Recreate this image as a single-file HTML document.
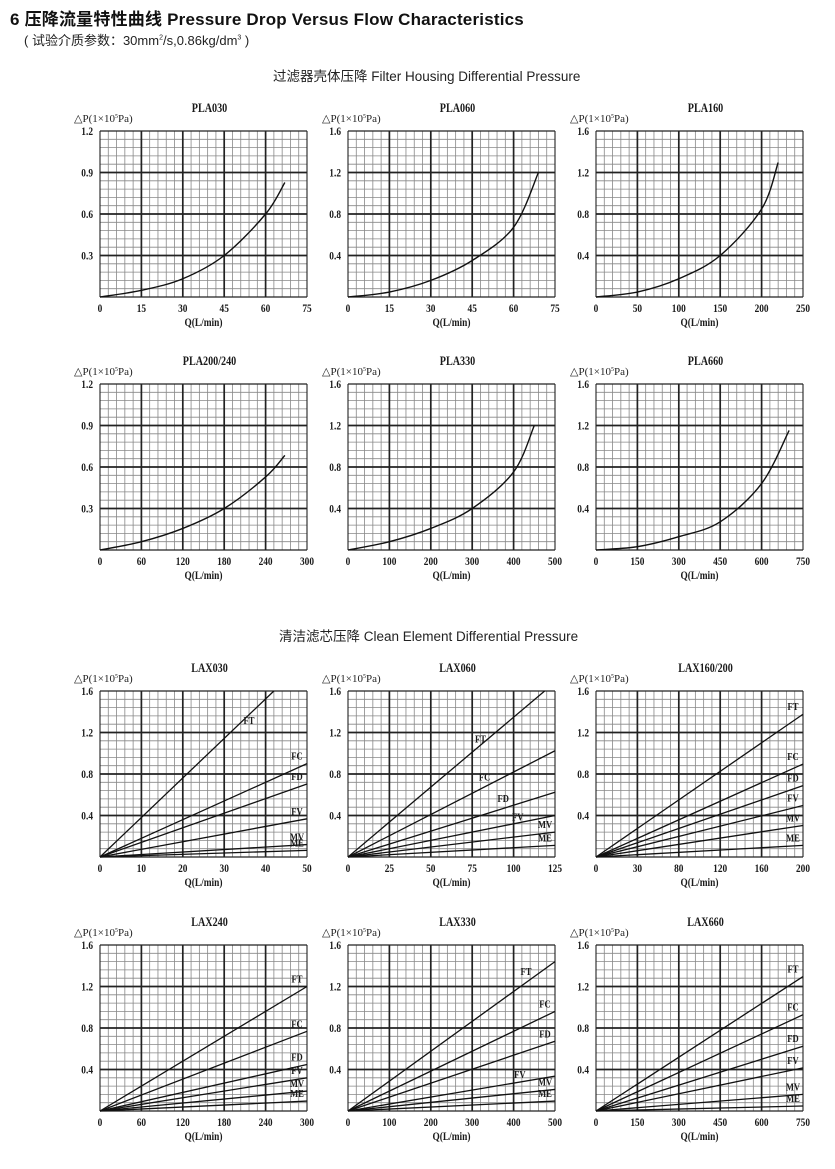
<!DOCTYPE html>
<html><head><meta charset="utf-8"><style>
body{margin:0;background:#fff;width:835px;height:1169px;overflow:hidden;position:relative;font-family:"Liberation Sans","Noto Sans CJK SC",sans-serif;}
.t1{position:absolute;left:10px;top:5px;font-size:17px;font-weight:bold;color:#111;letter-spacing:0.2px}
.t2{position:absolute;left:24px;top:30px;font-size:13px;color:#222}
.h{position:absolute;font-size:13.5px;color:#222}
svg{position:absolute;left:0;top:0}
</style></head><body>
<div class="t1">6 压降流量特性曲线 Pressure Drop Versus Flow Characteristics</div>
<div class="t2">( 试验介质参数：30mm<sup style="font-size:7px">2</sup>/s,0.86kg/dm<sup style="font-size:7px">3</sup> )</div>
<div class="h" style="left:273px;top:65px">过滤器壳体压降 Filter Housing Differential Pressure</div>
<div class="h" style="left:279px;top:625px">清洁滤芯压降 Clean Element Differential Pressure</div>
<svg id="s" width="835" height="1169" xmlns="http://www.w3.org/2000/svg"></svg>
<script>
var W=207,H=166,xs=[100,348,596];
var charts=[
{t:"PLA030",x:0,y:131,yl:["0.3","0.6","0.9","1.2"],xl:[0,15,30,45,60,75],c:[[0,0],[0.2,0.04],[0.4,0.11],[0.6,0.25],[0.8,0.5],[0.893,0.69]]},
{t:"PLA060",x:1,y:131,yl:["0.4","0.8","1.2","1.6"],xl:[0,15,30,45,60,75],c:[[0,0],[0.2,0.03],[0.4,0.1],[0.6,0.22],[0.8,0.42],[0.92,0.75]]},
{t:"PLA160",x:2,y:131,yl:["0.4","0.8","1.2","1.6"],xl:[0,50,100,150,200,250],c:[[0,0],[0.2,0.03],[0.4,0.11],[0.6,0.25],[0.8,0.53],[0.88,0.81]]},
{t:"PLA200/240",x:0,y:384,yl:["0.3","0.6","0.9","1.2"],xl:[0,60,120,180,240,300],c:[[0,0],[0.2,0.05],[0.4,0.13],[0.6,0.25],[0.8,0.44],[0.893,0.57]]},
{t:"PLA330",x:1,y:384,yl:["0.4","0.8","1.2","1.6"],xl:[0,100,200,300,400,500],c:[[0,0],[0.2,0.05],[0.4,0.13],[0.6,0.25],[0.8,0.47],[0.9,0.75]]},
{t:"PLA660",x:2,y:384,yl:["0.4","0.8","1.2","1.6"],xl:[0,150,300,450,600,750],c:[[0,0],[0.2,0.02],[0.4,0.08],[0.6,0.17],[0.8,0.4],[0.933,0.72]]},
{t:"LAX030",x:0,y:691,yl:["0.4","0.8","1.2","1.6"],xl:[0,10,20,30,40,50],l:[["FT",0.84,1,0.72,0.8],["FC",1,0.5625],["FD",1,0.44],["FV",1,0.23],["MV",1,0.075],["ME",1,0.04]]},
{t:"LAX060",x:1,y:691,yl:["0.4","0.8","1.2","1.6"],xl:[0,25,50,75,100,125],l:[["FT",0.95,1,0.64,0.69],["FC",1,0.64,0.66,0.46],["FD",1,0.39,0.75,0.33],["FV",1,0.25,0.82,0.22],["MV",1,0.15],["ME",1,0.07]]},
{t:"LAX160/200",x:2,y:691,yl:["0.4","0.8","1.2","1.6"],xl:[0,30,80,120,160,200],l:[["FT",1,0.86],["FC",1,0.56],["FD",1,0.43],["FV",1,0.31],["MV",1,0.19],["ME",1,0.07]]},
{t:"LAX240",x:0,y:945,yl:["0.4","0.8","1.2","1.6"],xl:[0,60,120,180,240,300],l:[["FT",1,0.75],["FC",1,0.48],["FD",1,0.28],["FV",1,0.2],["MV",1,0.12],["ME",1,0.06]]},
{t:"LAX330",x:1,y:945,yl:["0.4","0.8","1.2","1.6"],xl:[0,100,200,300,400,500],l:[["FT",1,0.9,0.86,0.82],["FC",1,0.6],["FD",1,0.42],["FV",1,0.21,0.83,0.2],["MV",1,0.13],["ME",1,0.06]]},
{t:"LAX660",x:2,y:945,yl:["0.4","0.8","1.2","1.6"],xl:[0,150,300,450,600,750],l:[["FT",1,0.81],["FC",1,0.58],["FD",1,0.39],["FV",1,0.26],["MV",1,0.1],["ME",1,0.03]]}
];
var o="";
function T(x,y,s,a,fs){o+='<text x="'+x+'" y="'+y+'" font-family="Liberation Serif,serif" font-weight="bold" font-size="'+(fs||11)+'" fill="#1a1a1a" text-anchor="'+(a||"middle")+'" transform="translate('+x+' '+y+') scale(0.78 1) translate('+(-x)+' '+(-y)+')">'+s+'</text>';}
charts.forEach(function(c){
 var X=xs[c.x],Y=c.y,i;
 for(i=1;i<25;i++){if(i%5){var xx=X+W*i/25;o+='<line x1="'+xx+'" y1="'+Y+'" x2="'+xx+'" y2="'+(Y+H)+'" stroke="#888" stroke-width="0.8"/>';}}
 for(i=1;i<20;i++){if(i%5){var yy=Y+H*i/20;o+='<line x1="'+X+'" y1="'+yy+'" x2="'+(X+W)+'" y2="'+yy+'" stroke="#888" stroke-width="0.8"/>';}}
 for(i=0;i<=5;i++){var xx=X+W*i/5;o+='<line x1="'+xx+'" y1="'+Y+'" x2="'+xx+'" y2="'+(Y+H)+'" stroke="#222" stroke-width="'+(i==0||i==5?1.1:1.7)+'"/>';}
 for(i=0;i<=4;i++){var yy=Y+H*i/4;o+='<line x1="'+X+'" y1="'+yy+'" x2="'+(X+W)+'" y2="'+yy+'" stroke="#222" stroke-width="'+(i==0||i==4?1.2:1.7)+'"/>';}
 T(X+W/2+6,Y-19,c.t,"middle",13);
 o+='<text x="'+(X-26)+'" y="'+(Y-9)+'" font-family="Liberation Serif,serif" font-size="11" fill="#222">△P(1×10<tspan font-size="6" dy="-4">5</tspan><tspan dy="4">Pa)</tspan></text>';
 for(i=0;i<4;i++)T(X-7,Y+H*(3-i)/4+4,c.yl[i],"end",12);
 for(i=0;i<=5;i++)T(X+W*i/5,Y+H+15,c.xl[i],"middle",12);
 T(X+W/2,Y+H+29,"Q(L/min)","middle",12);
 if(c.c){var p=c.c.map(function(q){return[X+q[0]*W,Y+H-q[1]*H]});
  var d="M"+p[0][0]+" "+p[0][1];
  for(i=0;i<p.length-1;i++){var p0=p[Math.max(i-1,0)],p1=p[i],p2=p[i+1],p3=p[Math.min(i+2,p.length-1)];
   d+=" C"+(p1[0]+(p2[0]-p0[0])/6)+" "+(p1[1]+(p2[1]-p0[1])/6)+" "+(p2[0]-(p3[0]-p1[0])/6)+" "+(p2[1]-(p3[1]-p1[1])/6)+" "+p2[0]+" "+p2[1];}
  o+='<path d="'+d+'" fill="none" stroke="#111" stroke-width="1.4"/>';}
 if(c.l)c.l.forEach(function(l){
  var ex=X+l[1]*W,ey=Y+H-l[2]*H;
  o+='<line x1="'+X+'" y1="'+(Y+H)+'" x2="'+ex+'" y2="'+ey+'" stroke="#111" stroke-width="1.3"/>';
  var lx,ly;
  if(l.length>3){lx=X+l[3]*W;ly=Y+H-l[4]*H;}else{lx=ex-10;ly=ey-4;}
  T(lx,ly,l[0],"middle",11);
 });
});
document.getElementById("s").innerHTML=o;
</script>
</body></html>
